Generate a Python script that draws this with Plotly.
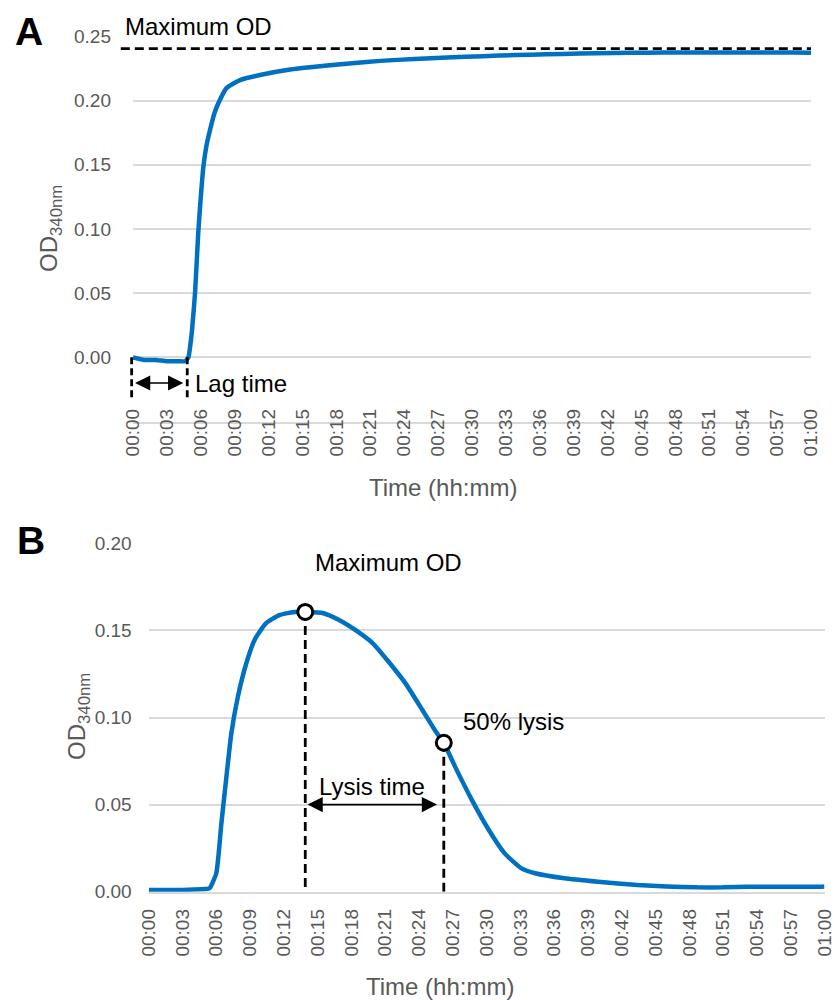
import plotly.graph_objects as go

# ---------------- data ----------------
# Panel A: OD340nm vs time (minutes)
time_a = [0, 1, 2, 3, 4, 4.6, 4.9, 5.05, 5.22, 5.49, 5.78, 6.0, 6.22, 6.5, 6.81, 7.2, 7.55,
          8.29, 9.47, 11.24, 13.9, 15.9, 18.9, 21.9, 24.9, 27.8, 31.0, 33.8, 36.6, 39.5,
          42.5, 45.5, 48.5, 51.3, 54.5, 58.4, 60]
od_a = [0.000, -0.002, -0.002, -0.003, -0.003, -0.003, 0.000, 0.008, 0.021, 0.050, 0.098,
        0.125, 0.148, 0.165, 0.177, 0.190, 0.198, 0.210, 0.216, 0.220, 0.2243, 0.2263,
        0.2288, 0.231, 0.2325, 0.2336, 0.2347, 0.2355, 0.2362, 0.2367, 0.2372, 0.2374,
        0.2375, 0.2375, 0.2376, 0.2375, 0.2374]

# Panel B: OD340nm vs time (minutes)
time_b = [0, 1, 2, 3, 4, 5, 5.4, 6.0, 6.45, 6.9, 7.34, 7.92, 8.66, 9.4, 10.4, 11.6, 13.1,
          13.9, 15.44, 16.9, 18.4, 19.9, 21.3, 22.8, 24.3, 25.5, 26.2, 27.2, 28.7, 30.2,
          31.6, 33.1, 34.3, 36.9, 39.9, 43.4, 46, 48.7, 51, 53.2, 56, 59.6, 60]
od_b = [0.001, 0.001, 0.001, 0.001, 0.0012, 0.0015, 0.002, 0.0106, 0.039, 0.066, 0.091,
        0.112, 0.131, 0.1445, 0.154, 0.1588, 0.1607, 0.1606, 0.160, 0.156, 0.150, 0.1426,
        0.132, 0.1196, 0.1043, 0.0918, 0.0855, 0.0718, 0.0526, 0.0354, 0.022, 0.0134,
        0.0106, 0.0077, 0.0057, 0.0038, 0.003, 0.0025, 0.0025, 0.0029, 0.0028, 0.0029, 0.003]

tick_minutes = [0, 3, 6, 9, 12, 15, 18, 21, 24, 27, 30, 33, 36, 39, 42, 45, 48, 51, 54, 57, 60]
tick_labels = ["00:00", "00:03", "00:06", "00:09", "00:12", "00:15", "00:18", "00:21",
               "00:24", "00:27", "00:30", "00:33", "00:36", "00:39", "00:42", "00:45",
               "00:48", "00:51", "00:54", "00:57", "01:00"]
y_ticks_a = [0.00, 0.05, 0.10, 0.15, 0.20, 0.25]
y_ticks_b = [0.00, 0.05, 0.10, 0.15, 0.20]

max_od_a = 0.2405
lag_time = 4.8
lag_arrow_y = -0.020
lag_line_bottom = -0.033
peak_time_b, peak_od_b = 13.9, 0.1606
half_time_b, half_od_b = 26.2, 0.0855
lysis_arrow_y = 0.05
lysis_arrow_start, lysis_arrow_end = 13.97, 25.6

# ---------------- layout helpers ----------------
W, H = 834, 1000
def px(x):
    return x / W
def py(y):
    return 1 - y / H

FONT = "Arial, Liberation Sans, sans-serif"
GRAY = "#595959"
GRID = "#d9d9d9"
BLUE = "#0070C0"

fig = go.Figure()

fig.add_trace(go.Scatter(x=time_a, y=od_a, mode="lines", xaxis="x", yaxis="y",
                         line=dict(color=BLUE, width=4.5, shape="spline", smoothing=0.5),
                         showlegend=False, hoverinfo="skip"))
fig.add_trace(go.Scatter(x=time_b, y=od_b, mode="lines", xaxis="x2", yaxis="y2",
                         line=dict(color=BLUE, width=4.5, shape="spline", smoothing=0.5),
                         showlegend=False, hoverinfo="skip"))
fig.add_trace(go.Scatter(x=[peak_time_b, half_time_b], y=[peak_od_b, half_od_b],
                         mode="markers", xaxis="x2", yaxis="y2", cliponaxis=False,
                         marker=dict(symbol="circle", size=15, color="white",
                                     line=dict(color="black", width=3)),
                         showlegend=False, hoverinfo="skip"))

dash = "9px,5px"
LW = 2.8
shapes = [
    # maximum OD line (A)
    dict(type="line", xref="x domain", yref="y", x0=-0.018, x1=1.0,
         y0=max_od_a, y1=max_od_a, line=dict(color="black", width=LW, dash=dash), layer="above"),
    # lag time verticals (A)
    dict(type="line", xref="x domain", yref="y", x0=-0.002, x1=-0.002,
         y0=0, y1=lag_line_bottom, line=dict(color="black", width=LW, dash="7px,4px"), layer="above"),
    dict(type="line", xref="x", yref="y", x0=lag_time, x1=lag_time,
         y0=0, y1=lag_line_bottom, line=dict(color="black", width=LW, dash="7px,4px"), layer="above"),
    # lysis verticals (B)
    dict(type="line", xref="x2", yref="y2", x0=peak_time_b, x1=peak_time_b,
         y0=peak_od_b, y1=0, line=dict(color="black", width=LW, dash=dash), layer="between"),
    dict(type="line", xref="x2", yref="y2", x0=half_time_b, x1=half_time_b,
         y0=half_od_b, y1=0, line=dict(color="black", width=LW, dash=dash), layer="between"),
]

ann_font = dict(family=FONT, size=24, color="black")
C = dict(xanchor="center", yanchor="middle", showarrow=False)
annotations = [
    dict(text="<b>A</b>", xref="paper", yref="paper", x=px(29), y=py(31),
         font=dict(family=FONT, size=39, color="black"), **C),
    dict(text="<b>B</b>", xref="paper", yref="paper", x=px(31), y=py(540),
         font=dict(family=FONT, size=39, color="black"), **C),
    dict(text="Maximum OD", xref="x", yref="paper", x=5.84, y=py(26.7), font=ann_font, **C),
    dict(text="Lag time", xref="x", yref="y", x=5.3, y=lag_arrow_y, xanchor="left",
         yanchor="middle", showarrow=False, font=ann_font),
    dict(text="", xref="x", yref="y", axref="x", ayref="y", x=4.45, y=lag_arrow_y,
         ax=0.05, ay=lag_arrow_y, showarrow=True, arrowside="end+start", arrowhead=2,
         startarrowhead=2, arrowsize=1.9, startarrowsize=1.9, arrowwidth=1.6,
         arrowcolor="black", standoff=0, startstandoff=0),
    dict(text="Maximum OD", xref="x2", yref="y2", x=21.3, y=0.1887, font=ann_font, **C),
    dict(text="50% lysis", xref="x2", yref="y2", x=27.7, y=0.0975, xanchor="left",
         yanchor="middle", showarrow=False, font=ann_font),
    dict(text="Lysis time", xref="x2", yref="y2", x=19.86, y=0.0603, font=ann_font, **C),
    dict(text="", xref="x2", yref="y2", axref="x2", ayref="y2", x=lysis_arrow_end, y=lysis_arrow_y,
         ax=lysis_arrow_start, ay=lysis_arrow_y, showarrow=True, arrowside="end+start",
         arrowhead=2, startarrowhead=2, arrowsize=1.9, startarrowsize=1.9, arrowwidth=1.6,
         arrowcolor="black", standoff=0, startstandoff=0),
    # axis titles
    dict(text="Time (hh:mm)", xref="paper", yref="paper", x=px(443), y=py(487),
         font=dict(family=FONT, size=24, color=GRAY), **C),
    dict(text="Time (hh:mm)", xref="paper", yref="paper", x=px(440), y=py(986),
         font=dict(family=FONT, size=24, color=GRAY), **C),
    dict(text="OD<sub>340nm</sub>", xref="paper", yref="paper", x=px(51), y=py(229),
         textangle=-90, font=dict(family=FONT, size=24, color=GRAY), **C),
    dict(text="OD<sub>340nm</sub>", xref="paper", yref="paper", x=px(78), y=py(717),
         textangle=-90, font=dict(family=FONT, size=24, color=GRAY), **C),
]

tickfont = dict(family=FONT, size=19, color=GRAY)
xcommon = dict(range=[0, 60], tickmode="array", tickvals=tick_minutes, ticktext=tick_labels,
               tickangle=-90, tickfont=tickfont, showgrid=False, zeroline=False, ticks="",
               showline=True, linecolor=GRID, linewidth=1.5, fixedrange=True, automargin=False,
               ticklabeloverflow="allow")
ycommon = dict(tickmode="array", tickformat=".2f", tickfont=tickfont, showgrid=True,
               gridcolor=GRID, gridwidth=1.5, zeroline=False, showline=False, ticks="",
               fixedrange=True, automargin=False)

fig.update_layout(
    template=None,
    width=W, height=H, autosize=False,
    margin=dict(l=0, r=0, t=0, b=0, pad=0, autoexpand=False),
    paper_bgcolor="white", plot_bgcolor="white",
    font=dict(family=FONT),
    xaxis=dict(domain=[px(133), px(811)], anchor="y", ticklabelstandoff=-22, **xcommon),
    yaxis=dict(domain=[py(421.5), py(36.5)], anchor="x", range=[-0.05, 0.25],
               tickvals=y_ticks_a, ticklabelstandoff=21, **ycommon),
    xaxis2=dict(domain=[px(148.7), px(824.5)], anchor="y2", ticklabelstandoff=8, **xcommon),
    yaxis2=dict(domain=[py(891.7), py(543.3)], anchor="x2", range=[0, 0.2],
                tickvals=y_ticks_b, ticklabelstandoff=16, **ycommon),
    shapes=shapes,
    annotations=annotations,
    showlegend=False,
)

# remove the default page margin so the 834x1000 figure fills the window exactly
fig.write_html("out.html", config={"displayModeBar": False},
               post_script="document.body.style.margin='0';document.body.style.overflow='hidden';")
